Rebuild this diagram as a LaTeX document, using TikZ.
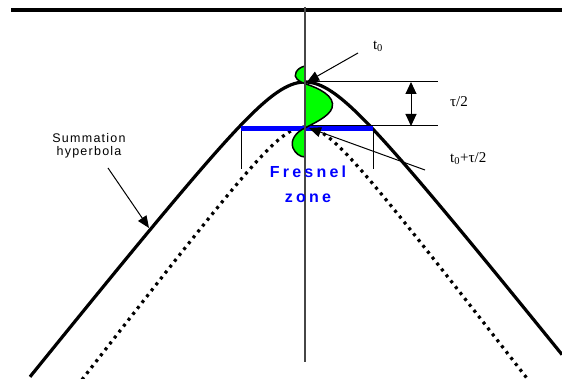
\documentclass[tikz,border=0pt]{standalone}
\usepackage{fontspec}
\setmainfont{Liberation Serif}
\newfontfamily\sumfont[LetterSpace=10]{Liberation Sans}
\newfontfamily\frfont[LetterSpace=20]{Liberation Sans}
\usetikzlibrary{arrows.meta}
\definecolor{wavegreen}{RGB}{0,255,0}
\definecolor{zoneblue}{RGB}{0,0,255}
\definecolor{axisgray}{RGB}{70,70,70}
\tikzset{
  hyp/.style={line width=3.2pt},
  dothyp/.style={line width=3.2pt, dash pattern=on 3pt off 4.5pt},
  thin/.style={line width=1pt},
  pointer/.style={line width=1pt, -{Triangle[length=12pt,width=10pt]}},
  dbl/.style={line width=1pt, {Triangle[length=12pt,width=11pt]}-{Triangle[length=12pt,width=11pt]}},
  serlbl/.style={font=\fontsize{15}{17}\selectfont, inner sep=0pt},
  sumlbl/.style={font=\sumfont\fontsize{12.5}{13}\selectfont, align=center, inner sep=0pt},
  frlbl/.style={font=\frfont\bfseries\fontsize{16}{25}\selectfont, text=zoneblue, align=center, inner sep=0pt}
}
\begin{document}
\begin{tikzpicture}[x=1pt,y=-1pt]
\useasboundingbox (0,0) rectangle (562,379);
% top surface
\draw[line width=3.5pt] (11,10) -- (562,10);
% summation hyperbola
\draw[hyp] plot[domain=-275:257, samples=160] ({305+\x},{82+53*sqrt(1+(1.25*\x/53)^2)-53});
% dotted hyperbola
\draw[dothyp] plot[domain=-223:225, samples=160] ({305+\x},{127+40*sqrt(1+(1.3*\x/40)^2)-40});
% fresnel zone bar and ticks
\coordinate (bl) at (241,129);
\coordinate (br) at (373,129);
\draw[thin] (bl) -- (241,169);
\draw[thin] (br) -- (373,169);
\draw[line width=5pt, zoneblue] (bl) -- (br);
% horizontal level lines
\coordinate (l1a) at (305,82);
\coordinate (l1b) at (438,82);
\coordinate (l2a) at (305,126);
\coordinate (l2b) at (438,126);
\draw[thin] (l1a) -- (l1b);
\draw[thin] (l2a) -- (l2b);
% wavelet
\fill[wavegreen] (305,66) .. controls (296,68) and (293,76) .. (297,79)
  .. controls (300,82) and (303,83) .. (306,84)
  .. controls (318,88) and (336,96) .. (332,108)
  .. controls (329,117) and (312,124) .. (305,128)
  .. controls (296,132) and (290,140) .. (293,148)
  .. controls (295,153) and (300,157) .. (305,157) -- cycle;
\draw[line width=1.5pt] (305,66) .. controls (296,68) and (293,76) .. (297,79)
  .. controls (300,82) and (303,83) .. (306,84)
  .. controls (318,88) and (336,96) .. (332,108)
  .. controls (329,117) and (312,124) .. (305,128)
  .. controls (296,132) and (290,140) .. (293,148)
  .. controls (295,153) and (300,157) .. (305,157);
% vertical axis
\draw[line width=1.3pt, axisgray] (305,7) -- (305,362);
% double arrow
\coordinate (da) at (411,82);
\coordinate (db) at (411,126);
\draw[dbl] (da) -- (db);
% labels
\node[serlbl] (t0) at (378,46) {t\textsubscript{0}};
\node[serlbl, anchor=west] (tau) at (450,102) {τ/2};
\node[serlbl, anchor=west] (t0tau) at (450,159) {t\textsubscript{0}+τ/2};
\node[sumlbl] (sum) at (89,146) {Summation\\hyperbola};
\node[frlbl] (fr) at (308,184) {Fresnel\\zone};
% pointers
\coordinate (t0s) at (358,53);
\coordinate (t0tip) at (307,82);
\coordinate (t1s) at (425,170);
\coordinate (t1tip) at (309,128);
\coordinate (ss) at (108,168);
\coordinate (stip) at (149,228);
\draw[pointer] (t0s) -- (t0tip);
\draw[pointer] (t1s) -- (t1tip);
\draw[pointer] (ss) -- (stip);
\end{tikzpicture}
\end{document}
